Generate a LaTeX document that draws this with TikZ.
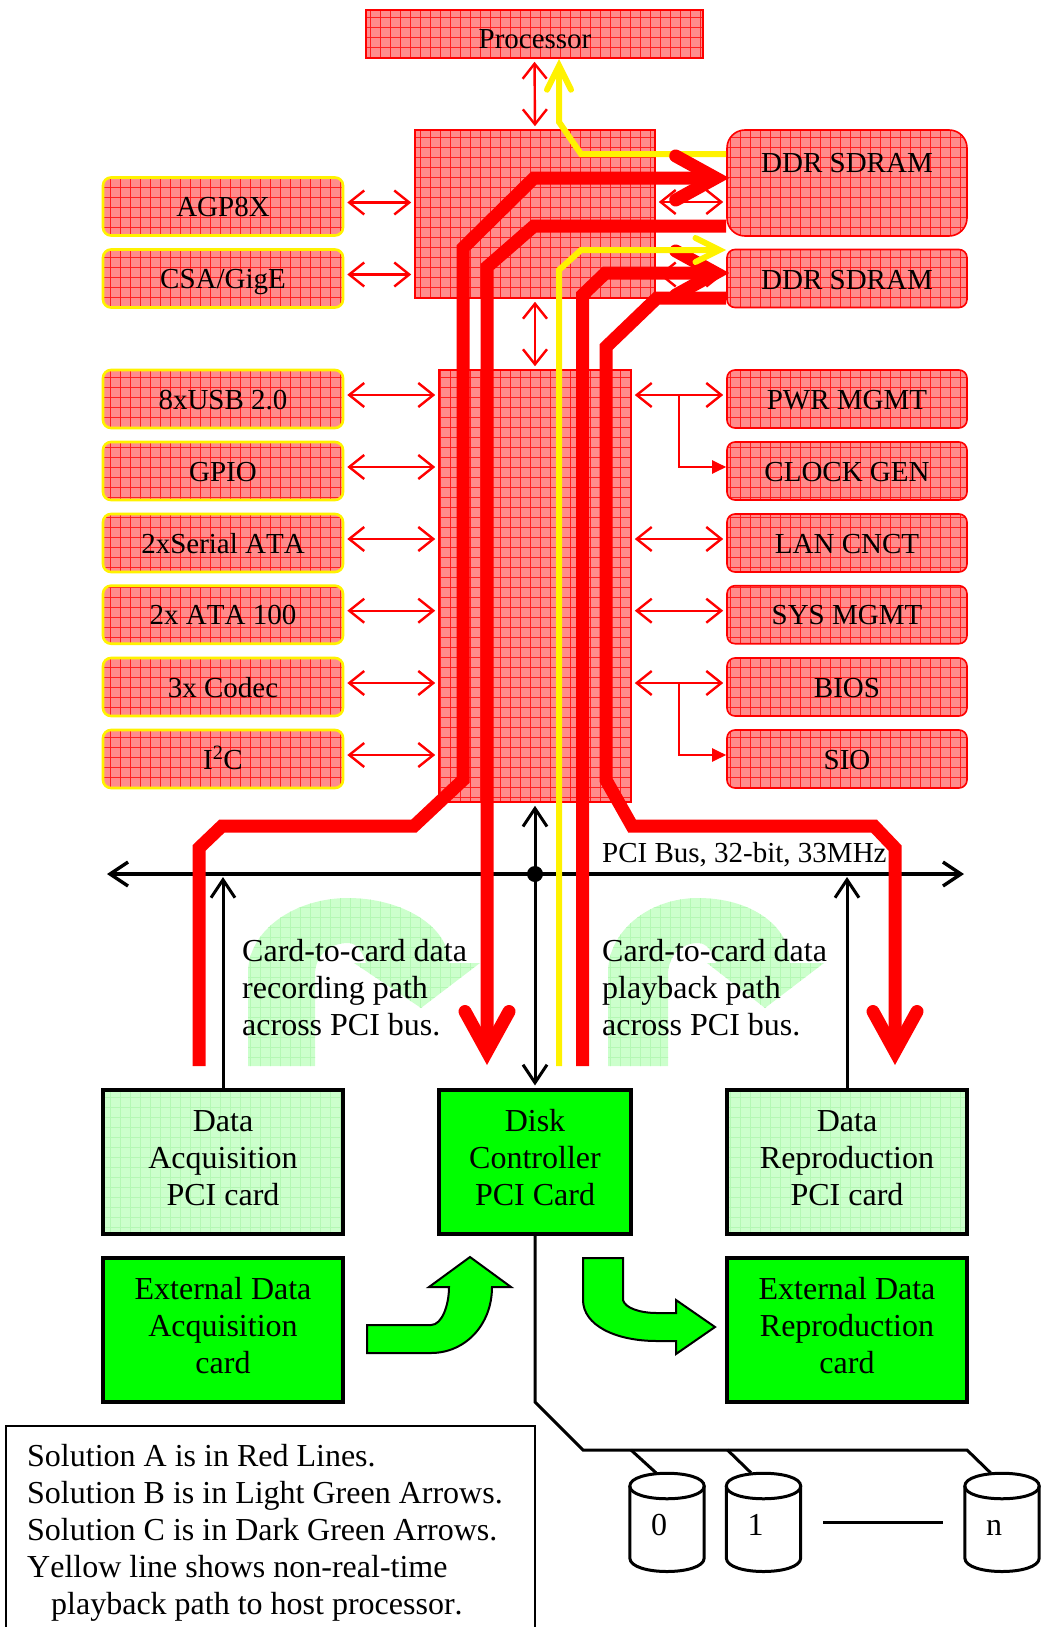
\documentclass[tikz,border=0pt]{standalone}
\usepackage{fontspec}
\setmainfont{Liberation Serif}[Kerning=Off]
\usetikzlibrary{arrows.meta,patterns.meta}
\definecolor{chipred}{HTML}{FF8C8C}
\definecolor{chipline}{HTML}{FF2020}
\definecolor{cardlight}{HTML}{CCFFCC}
\definecolor{gridlight}{HTML}{B4F8B4}
\definecolor{carddark}{HTML}{00FF00}
\tikzset{
    chipgrid/.style={preaction={fill=chipred}, preaction={pattern={Lines[angle=90,distance=10pt,line width=0.6pt]}, pattern color=chipline}, pattern={Lines[angle=0,distance=10pt,line width=0.6pt]}, pattern color=chipline},
    lightgrid/.style={preaction={fill=cardlight}, preaction={pattern={Lines[angle=90,distance=10pt,line width=0.7pt]}, pattern color=gridlight}, pattern={Lines[angle=0,distance=10pt,line width=0.7pt]}, pattern color=gridlight},
    chipbox/.style={chipgrid, draw=red, line width=1.6pt, rounded corners=8pt, minimum width=240pt, minimum height=58pt, inner sep=0pt, text height=24pt, text depth=4pt, font=\fontsize{29}{33}\selectfont},
    hostchip/.style={chipbox, draw=yellow, line width=2.6pt},
    hubbox/.style={chipgrid, draw=red, line width=1.6pt, inner sep=0pt},
    cardbox/.style={draw=black, line width=3.2pt, minimum width=240pt, minimum height=144pt, inner sep=0pt},
    cardtext/.style={align=center, yshift=4pt, inner sep=0pt, font=\fontsize{32}{37}\selectfont},
    notetext/.style={align=left, inner sep=0pt, font=\fontsize{32}{37}\selectfont},
    redlink/.style={draw=red, line width=2.4pt, {Straight Barb[length=15pt,width=24pt]}-{Straight Barb[length=15pt,width=24pt]}},
    redbranch/.style={draw=red, line width=2.2pt, -{Triangle[length=14pt,width=13pt]}},
    datapath/.style={draw=red, line width=13pt, -{Straight Barb[length=40pt,width=44pt,line cap=round,line join=miter]}},
    hostpath/.style={draw=yellow, line width=6pt, -{Straight Barb[length=24pt,width=24pt,line cap=round,line join=miter]}},
    buslink/.style={draw=black, line width=3pt, {Straight Barb[length=18pt,width=24pt]}-{Straight Barb[length=18pt,width=24pt]}},
    upfeed/.style={draw=black, line width=3pt, -{Straight Barb[length=18pt,width=24pt]}},
    wire/.style={draw=black, line width=3pt},
    flowarrow/.style={fill=carddark, draw=black, line width=2pt},
    diskcan/.style={minimum width=74pt, minimum height=98pt, inner sep=0pt},
    disklabel/.style={font=\fontsize{32}{37}\selectfont, inner sep=0pt, text height=22pt, text depth=0pt, xshift=-8pt, yshift=-2pt}
}
\begin{document}
\begin{tikzpicture}[x=1pt, y=-1pt]
    \useasboundingbox (0,0) rectangle (1041,1627);

    % Light green turn arrows
    \fill[lightgrid] (248,1066) -- (248,973) .. controls (248,930) and (295,898) .. (348,898) .. controls (400,898) and (449,925) .. (449,963)
        -- (480,963) -- (421,1008) -- (354,963) -- (366,963) .. controls (362,950) and (356,943) .. (348,943)
        .. controls (330,943) and (315,955) .. (315,975) -- (315,1066) -- cycle;
    \fill[lightgrid] (608,1066) -- (608,973) .. controls (608,930) and (650,898) .. (698,898) .. controls (750,898) and (790,925) .. (790,963)
        -- (824,963) -- (765,1008) -- (707,963) -- (716,963) .. controls (712,950) and (706,943) .. (698,943)
        .. controls (682,943) and (668,955) .. (668,975) -- (668,1066) -- cycle;

    % Chips, top part
    \node[chipbox, rounded corners=0pt, minimum width=337pt, minimum height=48pt] (cpu) at (534.5,34) {};
    \node[font=\fontsize{29}{33}\selectfont, inner sep=0pt] (cputext) at (535,39) {Processor};
    \node[hubbox, minimum width=240pt, minimum height=168pt] (north) at (535,214) {};
    \node[hubbox, minimum width=192pt, minimum height=432pt] (south) at (535,586) {};
    \node[chipbox, rounded corners=18pt, minimum height=106pt] (ddrA) at (847,183) {};
    \node[font=\fontsize{29}{33}\selectfont, inner sep=0pt] (ddrAtext) at (847,163) {DDR SDRAM};
    \node[chipbox] (ddrB) at (847,278.5) {};
    \node[font=\fontsize{29}{33}\selectfont, inner sep=0pt] (ddrBtext) at (847,280) {DDR SDRAM};

    % Chips on the left
    \foreach \name/\txt/\ypos in {agp/AGP8X/206.5, csa/CSA\slash GigE/278.5, usb/8xUSB 2.0/399, gpio/GPIO/471, sata/2xSerial ATA/543, ata/2x ATA 100/614.7, codec/3x Codec/687, iic/I\textsuperscript{2}C/759} {
        \node[hostchip] (\name) at (223,\ypos) {\txt};
    }
    % Chips on the right
    \foreach \name/\txt/\ypos in {pwr/PWR MGMT/399, clk/CLOCK GEN/471, lan/LAN CNCT/543, sys/SYS MGMT/614.7, bios/BIOS/687, sio/SIO/759} {
        \node[chipbox] (\name) at (847,\ypos) {\txt};
    }

    % PCI cards
    \node[cardbox, lightgrid, label={[cardtext]center:{Data\\Acquisition\\PCI card}}] (daq) at (223,1162) {};
    \node[cardbox, fill=carddark, minimum width=192pt, label={[cardtext]center:{Disk\\Controller\\PCI Card}}] (disk) at (535,1162) {};
    \node[cardbox, lightgrid, label={[cardtext]center:{Data\\Reproduction\\PCI card}}] (repro) at (847,1162) {};
    \node[cardbox, fill=carddark, label={[cardtext]center:{External Data\\Acquisition\\card}}] (extdaq) at (223,1330) {};
    \node[cardbox, fill=carddark, label={[cardtext]center:{External Data\\Reproduction\\card}}] (extrepro) at (847,1330) {};

    % Red links between chips
    \foreach \name in {agp, csa} {
        \draw[redlink, shorten <=3pt, shorten >=3pt] ([yshift=4pt]\name.east) -- ([yshift=4pt]\name.east -| north.west);
    }
    \foreach \name in {usb, gpio, sata, ata, codec, iic} {
        \draw[redlink, shorten <=3pt, shorten >=3pt] ([yshift=4pt]\name.east) -- ([yshift=4pt]\name.east -| south.west);
    }
    \foreach \name in {pwr, lan, sys, bios} {
        \draw[redlink, shorten <=3pt, shorten >=3pt] ([yshift=4pt]\name.west -| south.east) -- ([yshift=4pt]\name.west);
    }
    \draw[redbranch] (679,395) -- (679,467) -- ([yshift=4pt]clk.west);
    \draw[redbranch] (679,683) -- (679,755) -- ([yshift=4pt]sio.west);
    \draw[redlink, shorten <=3pt, shorten >=3pt] (cpu.south) -- (north.north);
    \draw[redlink, shorten <=3pt, shorten >=3pt] (north.south) -- (south.north);
    \draw[redlink, shorten <=3pt, shorten >=3pt] ([yshift=-19pt]north.east |- ddrA.center) -- ([yshift=-19pt]ddrA.west);
    \draw[redlink, shorten <=3pt, shorten >=3pt] ([yshift=4pt]north.east |- ddrB.center) -- ([yshift=4pt]ddrB.west);

    % PCI bus
    \coordinate (busL) at (107,874);
    \coordinate (busR) at (964,874);
    \node[circle, fill=black, minimum size=16pt, inner sep=0pt] (busdot) at (535,874) {};
    \draw[buslink, line width=3.4pt] (busL) -- (busR);
    \draw[buslink] ([yshift=-3pt]south.south) -- ([yshift=3pt]disk.north);
    \draw[upfeed] (daq.north) -- (223,877);
    \draw[upfeed] (repro.north) -- (847,877);
    \node[font=\fontsize{29}{33}\selectfont, anchor=west, inner sep=0pt] (buslabel) at (602,855) {PCI Bus, 32-bit, 33MHz};

    % Yellow line to the processor
    \draw[hostpath, line join=miter] (ddrA.west |- 0,154) -- (581,154) -- (559,122) -- (559,59);

    % Red data paths
    \coordinate (recTail) at (199,1066);
    \coordinate (playTail) at (582.5,1066);
    \coordinate (diskHead) at (487,1065);
    \coordinate (reproHead) at (895,1065);
    \draw[datapath] (recTail) -- (199,848) -- (222,826) -- (414,826) -- (463,780) -- (463,248) -- (534,178) -- ([xshift=3pt,yshift=5pt]ddrA.west);
    \draw[datapath] (ddrA.west |- 0,226) -- (534,226) -- (487,267) -- (diskHead);
    \draw[datapath] (playTail) -- (582.5,295) -- (605.5,273) -- ([xshift=3pt,yshift=5.5pt]ddrB.west);
    \draw[datapath] (ddrB.west |- 0,298) -- (657,298) -- (606,347) -- (606,780) -- (632,826) -- (874,826) -- (895,848) -- (reproHead);

    % Yellow line from the disk card
    \coordinate (hostTail) at (559,1066);
    \draw[hostpath] (hostTail) -- (559,270) -- (581,250) -- (ddrB.west |- 0,250);

    % Notes on the turn arrows
    \node[notetext, anchor=west] (recnote) at (242,988) {Card-to-card data\\recording path\\across PCI bus.};
    \node[notetext, anchor=west] (playnote) at (602,988) {Card-to-card data\\playback path\\across PCI bus.};

    % Dark green arrows
    \draw[flowarrow] (367,1325) -- (431,1325) .. controls (442,1325) and (449,1305) .. (449,1287) -- (429,1287) -- (470,1257) -- (511,1287) -- (492,1287)
        .. controls (492,1325) and (465,1353) .. (431,1353) -- (367,1353) -- cycle;
    \draw[flowarrow] (583,1258) -- (623,1258) -- (623,1300) .. controls (625,1308) and (640,1313) .. (657,1313) -- (676,1313) -- (676,1300) -- (715,1327) -- (676,1354) -- (676,1341) -- (657,1341)
        .. controls (615,1341) and (583,1325) .. (583,1300) -- cycle;

    % Disks
    \foreach \name/\txt/\xpos in {diskA/0/667, diskB/1/763.5, diskN/n/1002} {
        \node[diskcan, label={[disklabel]center:\txt}] (\name) at (\xpos,1522) {};
        \draw[wire] (\name.west |- 0,1486) .. controls (\xpos-37,1469) and (\xpos+37,1469) .. (\name.east |- 0,1486)
            .. controls (\xpos+37,1503) and (\xpos-37,1503) .. cycle;
        \draw[wire] (\name.west |- 0,1486) -- (\name.west |- 0,1558) .. controls (\xpos-37,1576) and (\xpos+37,1576) .. (\name.east |- 0,1558) -- (\name.east |- 0,1486);
    }
    \draw[wire] (disk.south) -- (535,1402) -- (583,1450) -- (967,1450) -- ([xshift=-11.5pt]diskN.north);
    \draw[wire] (631,1450) -- ([xshift=-11pt]diskA.north);
    \draw[wire] (727.5,1450) -- ([xshift=-12.5pt]diskB.north);
    \coordinate (dashL) at (823,1522);
    \coordinate (dashR) at (943,1522);
    \draw[wire] (dashL) -- (dashR);

    % Legend
    \draw[black, line width=1.8pt] (6,1627) -- (6,1426) -- (535,1426) -- (535,1627);
    \node[notetext, anchor=west] (legend) at (27,1533) {Solution A is in Red Lines.\\Solution B is in Light Green Arrows.\\Solution C is in Dark Green Arrows.\\Yellow line shows non-real-time\\\hspace*{24pt}playback path to host processor.};
\end{tikzpicture}
\end{document}
